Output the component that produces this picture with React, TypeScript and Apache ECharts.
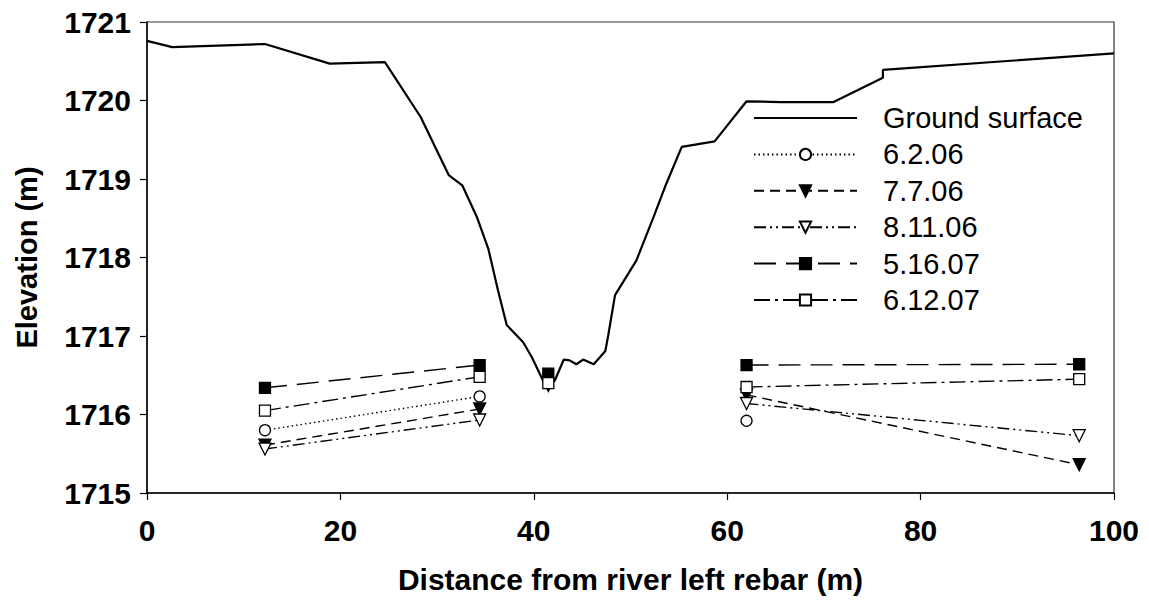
import React, { useEffect, useRef } from "react";
import * as echarts from "echarts";

// Ground surface profile
const groundX = [0, 2.6, 12.2, 18.9, 24.6, 28.3, 31.2, 32.6, 34.1, 35.3, 36.3, 37.2, 38.9, 39.8, 41.0, 41.5, 42.2, 43.1, 43.7, 44.4, 45.1, 46.2, 47.4, 47.7, 48.4, 50.6, 52.4, 53.7, 55.3, 58.7, 62.0, 65.5, 71.0, 76.1, 76.1, 100];
const groundY = [1720.76, 1720.68, 1720.72, 1720.47, 1720.49, 1719.79, 1719.05, 1718.92, 1718.52, 1718.11, 1717.58, 1717.14, 1716.92, 1716.73, 1716.42, 1716.33, 1716.44, 1716.70, 1716.69, 1716.64, 1716.70, 1716.64, 1716.81, 1717.01, 1717.52, 1717.96, 1718.52, 1718.94, 1719.41, 1719.48, 1719.99, 1719.98, 1719.98, 1720.29, 1720.39, 1720.60];

// Well positions (distance, m)
const leftX = [12.2, 34.4];
const midX = [41.5];
const rightX = [62.0, 96.4];

// Water levels per date: [left pair], [mid], [right pair]
const d060206 = { left: [1715.80, 1716.23], mid: [null], right: [1715.92, null] };
const d070706 = { left: [1715.61, 1716.07], mid: [1716.37], right: [1716.25, 1715.36] };
const d081106 = { left: [1715.56, 1715.93], mid: [null], right: [1716.14, 1715.73] };
const d051607 = { left: [1716.34, 1716.63], mid: [1716.52], right: [1716.63, 1716.64] };
const d061207 = { left: [1716.05, 1716.48], mid: [1716.40], right: [1716.35, 1716.45] };

const xTicks = [0, 20, 40, 60, 80, 100];
const yTicks = [1715, 1716, 1717, 1718, 1719, 1720, 1721];

const FONT = "'Liberation Sans', Arial, Helvetica, sans-serif";

function buildSeriesData(d: { left: (number | null)[]; mid: (number | null)[]; right: (number | null)[] }) {
  const out: any[] = [];
  leftX.forEach((x, i) => out.push([x, d.left[i] == null ? "-" : d.left[i]]));
  out.push([38, "-"]);
  midX.forEach((x, i) => out.push([x, d.mid[i] == null ? "-" : d.mid[i]]));
  out.push([52, "-"]);
  rightX.forEach((x, i) => out.push([x, d.right[i] == null ? "-" : d.right[i]]));
  return out;
}

export default function App() {
  const ref = useRef<HTMLDivElement>(null);
  useEffect(() => {
    if (!ref.current) return;
    const chart = echarts.init(ref.current, null, { renderer: "svg" });
    const ground = groundX.map((x, i) => [x, groundY[i]]);
    const mk = (name: string, d: any, symbol: string, filled: boolean, dash: any, rotate = 0, size = 11) => ({
      name,
      type: "line",
      data: buildSeriesData(d),
      symbol,
      symbolSize: size,
      symbolRotate: rotate,
      showSymbol: true,
      connectNulls: false,
      lineStyle: { color: "#000", width: 1.4, type: dash },
      itemStyle: {
        color: filled ? "#000" : "#fff",
        borderColor: "#000",
        borderWidth: 1.3,
      },
      z: 3,
    });
    chart.setOption({
      animation: false,
      backgroundColor: "#fff",
      grid: {
        left: 147,
        right: 35,
        top: 22,
        bottom: 110,
        show: true,
        borderColor: "#333",
        borderWidth: 1.2,
        backgroundColor: "transparent",
      },
      legend: {
        orient: "vertical",
        left: 748,
        top: 98,
        itemWidth: 103,
        itemHeight: 14,
        itemGap: 6.4,
        textStyle: {
          fontFamily: FONT,
          fontSize: 29,
          color: "#000",
          lineHeight: 30,
          padding: [0, 0, 0, 21],
        },
        data: [
          {
            name: "Ground surface",
            itemStyle: { color: "transparent", borderColor: "transparent", borderWidth: 0, opacity: 0 },
          },
          "6.2.06",
          "7.7.06",
          "8.11.06",
          "5.16.07",
          "6.12.07",
        ],
      },
      xAxis: {
        type: "value",
        min: 0,
        max: 100,
        interval: 20,
        name: "Distance from river left rebar (m)",
        nameLocation: "middle",
        nameGap: 71,
        nameTextStyle: { fontFamily: FONT, fontWeight: "bold", fontSize: 30, color: "#000" },
        axisLine: { show: true, lineStyle: { color: "#000", width: 1.5 } },
        axisTick: { show: true, inside: false, length: 7, lineStyle: { color: "#000", width: 1.2 } },
        axisLabel: {
          fontFamily: FONT,
          fontWeight: "bold",
          fontSize: 30,
          color: "#000",
          margin: 22,
          formatter: (v: number) => (xTicks.includes(v) ? String(v) : ""),
        },
        splitLine: { show: false },
      },
      yAxis: {
        type: "value",
        min: 1715,
        max: 1721,
        interval: 1,
        name: "Elevation (m)",
        nameLocation: "middle",
        nameGap: 106,
        nameTextStyle: { fontFamily: FONT, fontWeight: "bold", fontSize: 29, color: "#000" },
        axisLine: { show: true, lineStyle: { color: "#000", width: 1.5 } },
        axisTick: { show: true, inside: false, length: 7, lineStyle: { color: "#000", width: 1.2 } },
        axisLabel: {
          fontFamily: FONT,
          fontWeight: "bold",
          fontSize: 30,
          color: "#000",
          margin: 16,
          formatter: (v: number) => (yTicks.includes(v) ? String(v) : ""),
        },
        splitLine: { show: false },
      },
      series: [
        {
          name: "Ground surface",
          type: "line",
          data: ground,
          symbol: "none",
          showSymbol: false,
          lineStyle: { color: "#000", width: 2.2, type: "solid" },
          itemStyle: { color: "#000" },
          z: 2,
        },
        mk("6.2.06", d060206, "circle", false, [1.5, 3]),
        mk("7.7.06", d070706, "triangle", true, [10, 6], 180, 12),
        mk("8.11.06", d081106, "triangle", false, [12, 4, 2, 4, 2, 4], 180, 12),
        mk("5.16.07", d051607, "rect", true, [22, 10]),
        mk("6.12.07", d061207, "rect", false, [16, 5, 3, 5]),
      ],
    });
    return () => chart.dispose();
  }, []);
  return <div ref={ref} style={{ width: 1149, height: 603, position: "absolute", left: 0, top: 0 }} />;
}
